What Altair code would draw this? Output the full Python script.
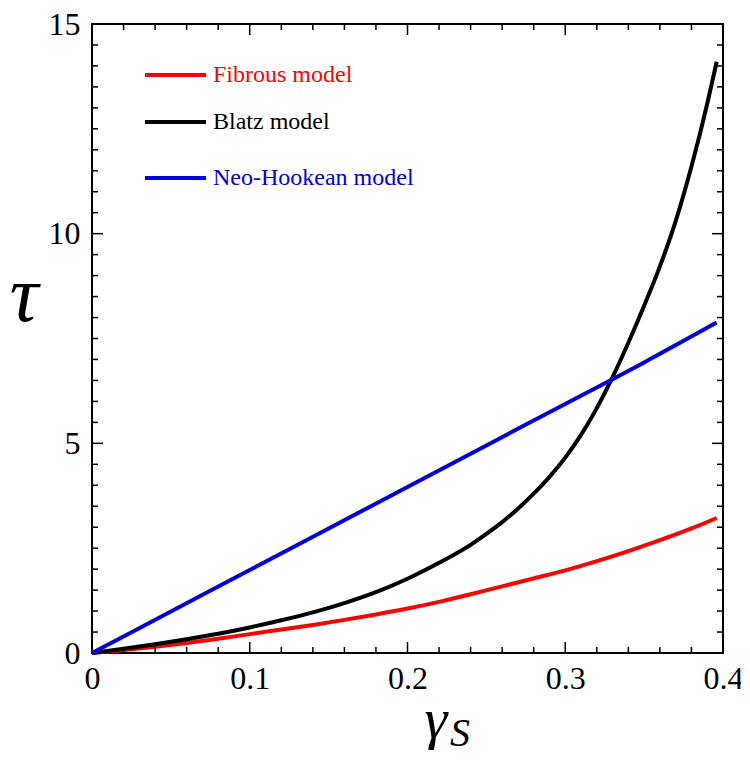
import altair as alt
import pandas as pd

# ---- data ----
gamma_fibrous = [0, 0.02, 0.04, 0.06, 0.08, 0.10, 0.12, 0.14, 0.16, 0.18, 0.20,
                 0.22, 0.24, 0.26, 0.28, 0.30, 0.32, 0.34, 0.36, 0.38, 0.396]
tau_fibrous = [0, 0.07, 0.15, 0.24, 0.34, 0.45, 0.56, 0.67, 0.79, 0.92, 1.06,
               1.22, 1.40, 1.59, 1.78, 1.97, 2.19, 2.43, 2.69, 2.97, 3.22]

gamma_blatz = [0, 0.02, 0.04, 0.06, 0.08, 0.10, 0.12, 0.14, 0.16, 0.18, 0.20,
               0.22, 0.24, 0.25, 0.26, 0.27, 0.28, 0.29, 0.30, 0.31, 0.32,
               0.33, 0.34, 0.35, 0.36, 0.37, 0.38, 0.39, 0.396]
tau_blatz = [0, 0.10, 0.21, 0.33, 0.46, 0.61, 0.78, 0.97, 1.19, 1.45, 1.77,
             2.15, 2.58, 2.84, 3.12, 3.44, 3.80, 4.20, 4.66, 5.20, 5.84,
             6.58, 7.40, 8.28, 9.22, 10.30, 11.60, 13.10, 14.10]

gamma_neo = [0, 0.05, 0.10, 0.15, 0.20, 0.25, 0.30, 0.35, 0.396]
tau_neo = [0, 0.99, 1.98, 2.97, 3.96, 4.95, 5.94, 6.93, 7.88]

models = ["Fibrous model", "Blatz model", "Neo-Hookean model"]
colors = ["#ff0000", "#000000", "#0000dd"]

x_major = [0, 0.1, 0.2, 0.3, 0.4]
x_minor = [0.02, 0.04, 0.06, 0.08, 0.12, 0.14, 0.16, 0.18, 0.22, 0.24, 0.26,
           0.28, 0.32, 0.34, 0.36, 0.38]
y_major = [0, 5, 10, 15]
y_minor = [0.5, 1, 1.5, 2, 2.5, 3, 3.5, 4, 4.5, 5.5, 6, 6.5, 7, 7.5, 8, 8.5,
           9, 9.5, 10.5, 11, 11.5, 12, 12.5, 13, 13.5, 14, 14.5]

# ---- layout ----
W, H = 631, 629
FONT = "Liberation Serif"
MAJ, MIN = 11, 6

rows = []
for g, t in zip(gamma_fibrous, tau_fibrous):
    rows.append({"gamma": g, "tau": t, "model": models[0], "o": len(rows)})
for g, t in zip(gamma_blatz, tau_blatz):
    rows.append({"gamma": g, "tau": t, "model": models[1], "o": len(rows)})
for g, t in zip(gamma_neo, tau_neo):
    rows.append({"gamma": g, "tau": t, "model": models[2], "o": len(rows)})
df = pd.DataFrame(rows)

xs = alt.Scale(domain=[0, 0.4], nice=False, zero=False)
ys = alt.Scale(domain=[0, 15], nice=False, zero=False)

xa = alt.Axis(values=x_major, format="~g", ticks=False, domain=False,
              grid=False, labelFont=FONT, labelFontSize=32,
              labelColor="black", labelPadding=10,
              labelFlush=False, labelOverlap=False, title=None)
ya = alt.Axis(values=y_major, format="~g", ticks=False, domain=False,
              grid=False, labelFont=FONT, labelFontSize=32,
              labelColor="black", labelPadding=12,
              labelFlush=False, labelOverlap=False, title=None)

curves = alt.Chart(df).mark_line(strokeWidth=4, interpolate="monotone").encode(
    x=alt.X("gamma:Q", scale=xs, title=None, axis=xa),
    y=alt.Y("tau:Q", scale=ys, title=None, axis=ya),
    color=alt.Color("model:N", scale=alt.Scale(domain=models, range=colors),
                    legend=None),
    detail="model:N",
    order="o:Q",
)

layers = [curves]


def xticks(vals, length):
    d = pd.DataFrame({"gamma": vals})
    b = alt.Chart(d).mark_rule(color="black", strokeWidth=1.5).encode(
        x=alt.X("gamma:Q", scale=xs, axis=xa, title=None),
        y=alt.value(H), y2=alt.value(H - length))
    t = alt.Chart(d).mark_rule(color="black", strokeWidth=1.5).encode(
        x=alt.X("gamma:Q", scale=xs, axis=xa, title=None),
        y=alt.value(0), y2=alt.value(length))
    return [b, t]


def yticks(vals, length):
    d = pd.DataFrame({"tau": vals})
    l = alt.Chart(d).mark_rule(color="black", strokeWidth=1.5).encode(
        y=alt.Y("tau:Q", scale=ys, axis=ya, title=None),
        x=alt.value(0), x2=alt.value(length))
    r = alt.Chart(d).mark_rule(color="black", strokeWidth=1.5).encode(
        y=alt.Y("tau:Q", scale=ys, axis=ya, title=None),
        x=alt.value(W), x2=alt.value(W - length))
    return [l, r]


layers += xticks(x_major[1:-1], MAJ) + xticks(x_minor, MIN)
layers += yticks(y_major[1:-1], MAJ) + yticks(y_minor, MIN)

# ---- in-plot legend ----
legend_y = [51, 98, 154]
for name, col, ly in zip(models, colors, legend_y):
    layers.append(alt.Chart(pd.DataFrame({"a": [0]})).mark_rule(
        color=col, strokeWidth=4).encode(
        x=alt.value(53), x2=alt.value(114), y=alt.value(ly)))
    layers.append(alt.Chart(pd.DataFrame({"a": [0]})).mark_text(
        align="left", baseline="middle", font=FONT, fontSize=24, color=col).encode(
        x=alt.value(121), y=alt.value(ly), text=alt.value(name)))

# ---- axis titles ----
one = pd.DataFrame({"a": [0]})
layers.append(alt.Chart(one).mark_text(
    font=FONT, fontSize=80, fontStyle="italic", align="center",
    baseline="alphabetic", color="black").encode(
    x=alt.value(-68), y=alt.value(297), text=alt.value("τ")))
layers.append(alt.Chart(one).mark_text(
    font=FONT, fontSize=58, fontStyle="italic", align="center",
    baseline="alphabetic", color="black").encode(
    x=alt.value(344), y=alt.value(714), text=alt.value("γ")))
layers.append(alt.Chart(one).mark_text(
    font=FONT, fontSize=40, fontStyle="italic", align="left",
    baseline="alphabetic", color="black").encode(
    x=alt.value(358), y=alt.value(722), text=alt.value("S")))

chart = alt.layer(*layers).properties(
    width=W, height=H,
    autosize=alt.AutoSizeParams(type="none"),
    padding={"left": 84, "top": 16, "right": 18, "bottom": 100},
    background="white",
).configure_view(stroke="black", strokeWidth=2)

chart.save("out.html", embed_options={"renderer": "svg", "actions": False})
